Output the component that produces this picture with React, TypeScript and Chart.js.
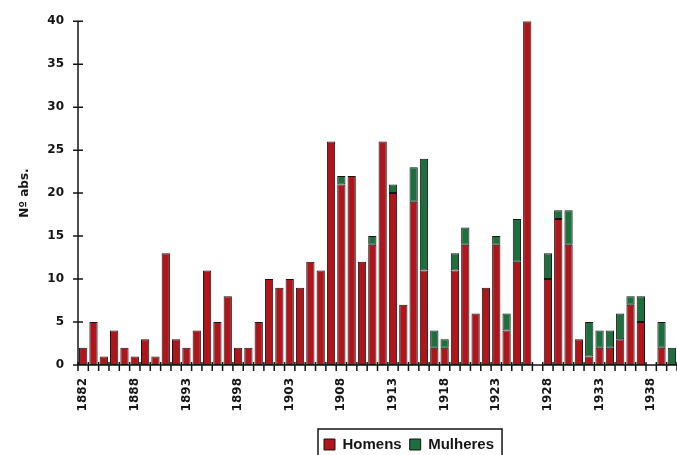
import React, { useEffect, useRef } from "react";
import { Chart, registerables } from "chart.js";

Chart.register(...registerables);

const years = [
  "1883", "1884", "1885", "1886", "1887", "1888", "1889", "1890", "1891", "1892",
  "1893", "1894", "1895", "1896", "1897", "1898", "1899", "1900", "1901", "1902",
  "1903", "1904", "1905", "1906", "1907", "1908", "1909", "1910", "1911", "1912",
  "1913", "1914", "1915", "1916", "1917", "1918", "1919", "1920", "1921", "1922",
  "1923", "1924", "1925", "1926", "1927", "1928", "1929", "1930", "1931", "1932",
  "1933", "1934", "1935", "1936", "1937", "1938", "1939", "1940",
];

const tickLabels = [
  "1882", "1888", "1893", "1898", "1903", "1908", "1913", "1918", "1923", "1928", "1933", "1938",
];

const homens = [
  2, 5, 1, 4, 2, 1, 3, 1, 13, 3,
  2, 4, 11, 5, 8, 2, 2, 5, 10, 9,
  10, 9, 12, 11, 26, 21, 22, 12, 14, 26,
  20, 7, 19, 11, 2, 2, 11, 14, 6, 9,
  14, 4, 12, 40, 0, 10, 17, 14, 3, 1,
  2, 2, 3, 7, 5, 0, 2, 0,
];

const mulheres = [
  0, 0, 0, 0, 0, 0, 0, 0, 0, 0,
  0, 0, 0, 0, 0, 0, 0, 0, 0, 0,
  0, 0, 0, 0, 0, 1, 0, 0, 1, 0,
  1, 0, 4, 13, 2, 1, 2, 2, 0, 0,
  1, 2, 5, 0, 0, 3, 1, 4, 0, 4,
  2, 2, 3, 1, 3, 0, 3, 2,
];

const yMax = 40;
const yStep = 5;

const RED = "#ae161c";
const GREEN = "#1f6f3e";
const INK = "#151515";

const LEGEND_FONT = { family: "'Liberation Sans', Arial, sans-serif", size: 15, weight: "bold" as const };
const LEGEND_BOX = 11;
const LEGEND_PAD = 8;

const axesPlugin = {
  id: "customAxes",
  afterLayout(chart: any) {
    const lg = chart.legend;
    if (!lg) return;
    const w = lg.right - lg.left;
    lg.left = 316;
    lg.right = 316 + w;
    const h = lg.bottom - lg.top;
    lg.top = 429;
    lg.bottom = 429 + h;
  },
  afterDatasetsDraw(chart: any) {
    const { ctx, chartArea, scales } = chart;
    const x = scales.x;
    const y = scales.y;
    ctx.save();
    ctx.strokeStyle = INK;
    ctx.lineWidth = 1.5;
    const x0 = chartArea.left;
    const yb = y.getPixelForValue(0);
    const yt = y.getPixelForValue(yMax);
    ctx.beginPath();
    ctx.moveTo(x0, yt);
    ctx.lineTo(x0, yb + 1);
    for (let v = 0; v <= yMax; v += yStep) {
      const py = y.getPixelForValue(v);
      ctx.moveTo(x0 - 5, py);
      ctx.lineTo(x0 + 5, py);
    }
    ctx.moveTo(x0, yb);
    ctx.lineTo(chartArea.right, yb);
    ctx.stroke();
    const half = (x.getPixelForValue(1) - x.getPixelForValue(0)) / 2;
    ctx.lineWidth = 1.5;
    ctx.beginPath();
    for (let i = 0; i <= years.length; i++) {
      const px = x.getPixelForValue(i) - half;
      ctx.moveTo(px, yb - 3);
      ctx.lineTo(px, yb + 6);
    }
    ctx.stroke();
    ctx.restore();
  },
  afterDraw(chart: any) {
    const lg = chart.legend;
    if (!lg) return;
    const { ctx } = chart;
    ctx.save();
    ctx.font = `${LEGEND_FONT.weight} ${LEGEND_FONT.size}px ${LEGEND_FONT.family}`;
    let total = 0;
    const items = lg.legendItems || [];
    items.forEach((it: any, i: number) => {
      total += LEGEND_BOX + LEGEND_FONT.size / 2 + ctx.measureText(it.text).width;
      if (i < items.length - 1) total += LEGEND_PAD;
    });
    const startX = lg.left + LEGEND_PAD;
    const left = startX - 6;
    const right = startX + total + 8;
    ctx.strokeStyle = INK;
    ctx.lineWidth = 1.5;
    ctx.beginPath();
    ctx.moveTo(left, 470);
    ctx.lineTo(left, lg.top);
    ctx.lineTo(right, lg.top);
    ctx.lineTo(right, 470);
    ctx.stroke();
    ctx.restore();
  },
};

export default function App() {
  const canvasRef = useRef<HTMLCanvasElement | null>(null);

  useEffect(() => {
    const canvas = canvasRef.current;
    if (!canvas) return;
    const tickFont = { family: "'DejaVu Sans', sans-serif", size: 12, weight: "bold" as const };
    const chart = new Chart(canvas, {
      type: "bar",
      data: {
        labels: years,
        datasets: [
          {
            label: "Homens",
            data: homens,
            backgroundColor: RED,
            borderColor: INK,
            borderWidth: 1,
            borderSkipped: false,
            barPercentage: 0.8,
            categoryPercentage: 1.0,
          },
          {
            label: "Mulheres",
            data: mulheres,
            backgroundColor: GREEN,
            borderColor: INK,
            borderWidth: 1,
            borderSkipped: false,
            barPercentage: 0.8,
            categoryPercentage: 1.0,
          },
        ],
      },
      options: {
        responsive: false,
        animation: false,
        devicePixelRatio: 1,
        layout: { padding: { top: 17, left: 0, right: 0, bottom: 0 } },
        plugins: {
          legend: {
            position: "bottom",
            align: "start",
            labels: {
              font: LEGEND_FONT,
              color: INK,
              boxWidth: LEGEND_BOX,
              boxHeight: LEGEND_BOX,
              padding: LEGEND_PAD,
            },
          },
          tooltip: { enabled: false },
        },
        scales: {
          x: {
            stacked: true,
            grid: { display: false, drawTicks: false },
            border: { display: false },
            ticks: {
              autoSkip: false,
              minRotation: 90,
              maxRotation: 90,
              padding: 13,
              color: INK,
              font: tickFont,
              callback: (_v: any, i: number) => (i % 5 === 0 ? tickLabels[i / 5] ?? "" : ""),
            },
            afterFit: (scale: any) => {
              scale.height = 57;
              scale.paddingLeft = 0;
              scale.paddingRight = 0;
            },
          },
          y: {
            stacked: true,
            min: 0,
            max: yMax,
            grid: { display: false, drawTicks: false },
            border: { display: false },
            ticks: {
              stepSize: yStep,
              padding: 14,
              color: INK,
              font: tickFont,
            },
            title: {
              display: true,
              text: "Nº abs.",
              color: INK,
              font: { family: "'DejaVu Sans', sans-serif", size: 12, weight: "bold" },
              padding: { top: 18, bottom: 0 },
            },
            afterFit: (scale: any) => {
              scale.width = 78;
            },
          },
        },
      },
      plugins: [axesPlugin],
    });
    return () => chart.destroy();
  }, []);

  return (
    <div
      style={{
        position: "fixed",
        left: 0,
        top: 0,
        width: 677,
        height: 455,
        overflow: "hidden",
        background: "#ffffff",
      }}
    >
      <canvas ref={canvasRef} width={677} height={455} style={{ display: "block" }} />
    </div>
  );
}
